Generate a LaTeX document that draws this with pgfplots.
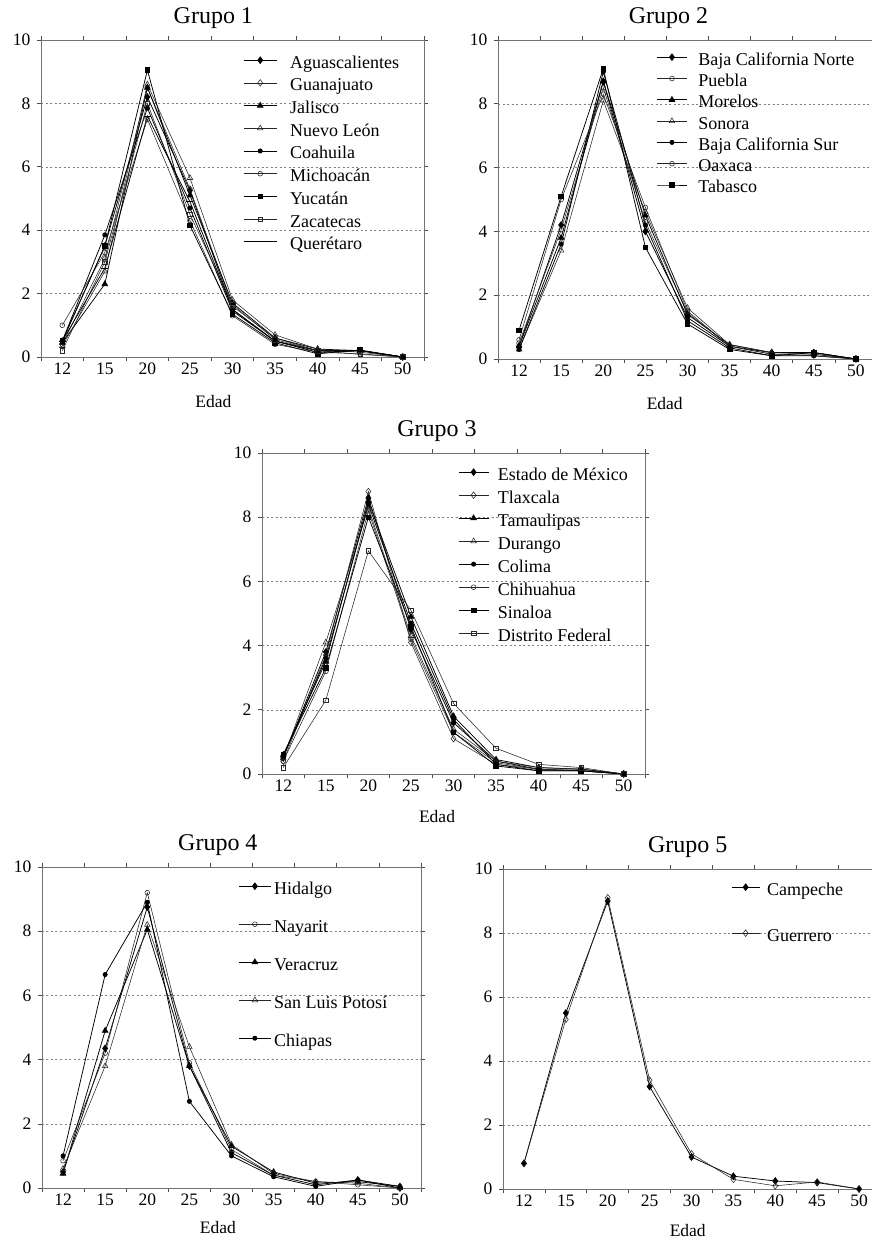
\documentclass[border=0pt]{standalone}
\usepackage{fontspec}
\setmainfont{Liberation Serif}
\usepackage{pgfplots}
\usepackage{pgfplotstable}
\pgfplotsset{compat=1.18}

\pgfplotstableread{
x Ags Gto Jal NL Coah Mich Yuc Zac Qro
0 0.5 0.4 0.45 0.35 0.5 1.0 0.5 0.2 0.5
1 3.5 3.1 2.3 2.7 3.85 3.3 3.5 3.0 2.8
2 8.2 8.5 8.5 8.6 7.85 7.5 9.05 8.0 7.6
3 5.25 5.3 5.1 5.65 4.7 4.3 4.15 4.5 4.9
4 1.5 1.6 1.7 1.8 1.45 1.3 1.35 1.65 1.5
5 0.5 0.6 0.6 0.7 0.5 0.4 0.45 0.55 0.5
6 0.2 0.2 0.25 0.25 0.2 0.15 0.1 0.2 0.15
7 0.2 0.2 0.2 0.15 0.2 0.1 0.22 0.08 0.2
8 0 0 0 0 0 0 0 0 0
}\grupoA

\pgfplotstableread{
x BCN Pue Mor Son BCS Oax Tab
0 0.4 0.5 0.4 0.3 0.3 0.6 0.9
1 4.2 4.05 3.8 3.4 3.6 5.0 5.1
2 8.7 8.5 8.7 8.1 9.0 8.3 9.1
3 4.0 4.3 4.5 4.6 4.2 4.75 3.5
4 1.3 1.45 1.4 1.6 1.2 1.5 1.1
5 0.4 0.4 0.45 0.45 0.35 0.4 0.3
6 0.2 0.15 0.2 0.2 0.1 0.15 0.1
7 0.2 0.15 0.2 0.15 0.1 0.1 0.2
8 0 0 0 0 0 0 0
}\grupoB

\pgfplotstableread{
x Mex Tlax Tamp Dgo Col Chih Sin DF
0 0.5 0.4 0.6 0.5 0.55 0.4 0.6 0.2
1 3.8 3.7 3.5 4.1 3.6 3.2 3.3 2.3
2 8.6 8.8 8.5 8.3 8.4 8.2 8.0 6.95
3 4.5 4.1 4.9 4.3 4.7 4.2 4.6 5.1
4 1.6 1.1 1.8 1.4 1.7 1.3 1.3 2.2
5 0.4 0.3 0.45 0.4 0.3 0.35 0.25 0.8
6 0.15 0.15 0.2 0.2 0.1 0.15 0.1 0.3
7 0.1 0.15 0.15 0.15 0.1 0.1 0.1 0.2
8 0 0 0 0 0 0 0 0
}\grupoC

\pgfplotstableread{
x Hgo Nay Ver SLP Chis
0 0.5 0.85 0.45 0.6 1.0
1 4.35 4.2 4.9 3.8 6.65
2 8.75 9.2 8.05 8.2 8.9
3 3.8 3.9 3.8 4.4 2.7
4 1.1 1.2 1.3 1.35 1.0
5 0.4 0.4 0.5 0.45 0.35
6 0.1 0.2 0.15 0.2 0.05
7 0.25 0.1 0.2 0.15 0.25
8 0 0 0.05 0 0.05
}\grupoD

\pgfplotstableread{
x Camp Gro
0 0.8 0.8
1 5.5 5.3
2 9.0 9.1
3 3.2 3.4
4 1.0 1.1
5 0.4 0.3
6 0.25 0.1
7 0.2 0.22
8 0 0
}\grupoE

\pgfplotsset{
  grp/.style={
    scale only axis,
    xmin=-0.5, xmax=8.5, ymin=0, ymax=10,
    xtick={-0.5,0.5,...,8.5}, xticklabels={},
    extra x ticks={0,1,...,8},
    extra x tick labels={12,15,20,25,30,35,40,45,50},
    extra x tick style={major tick length=0pt, grid=none},
    ytick={0,2,...,10},
    tick align=outside,
    major tick length=4pt,
    tick style={black!70, line width=0.6pt},
    ymajorgrids,
    grid style={dash pattern=on 2pt off 2.5pt, black!50, line width=0.5pt},
    axis line style={black!55, line width=0.7pt},
    ticklabel style={font=\fontsize{17.5}{20}\selectfont},
    /pgf/number format/assume math mode=true,
    xticklabel style={yshift=-2pt},
    yticklabel style={xshift=-3pt},
    xlabel={Edad},
    xlabel style={font=\fontsize{17.5}{20}\selectfont, anchor=base, yshift=-51pt},
    title style={font=\fontsize{24}{28}\selectfont, anchor=base, yshift=10pt},
    clip=false,
    every axis plot/.append style={black, line width=0.75pt},
    legend style={draw=none, fill=none, anchor=north west,
      font=\fontsize{18}{21}\selectfont,
      nodes={inner sep=0pt, text height=13pt, text depth=4pt}},
    legend cell align=left,
  },
  limg/.style n args={3}{legend image code/.code={%
    \draw[mark repeat=2,mark phase=2,##1] plot coordinates {(0pt,3.5pt)(#1,3.5pt)(#2,3.5pt)};
    \path (#3,0pt);}},
  m1/.style={mark=diamond*, mark size=3.3pt, mark options={fill=black, solid}},
  m2/.style={mark=diamond, mark size=3.3pt, mark options={fill=white, solid}, line width=0.55pt, black!85},
  m3/.style={mark=triangle*, mark size=3.2pt, mark options={fill=black, solid}},
  m4/.style={mark=triangle, mark size=3.2pt, mark options={fill=white, solid}, line width=0.55pt, black!85},
  m5/.style={mark=*, mark size=2.1pt, mark options={fill=black, solid}},
  m6/.style={mark=o, mark size=2.4pt, mark options={fill=white, solid}, line width=0.55pt, black!85},
  m7/.style={mark=square*, mark size=2.3pt, mark options={fill=black, solid}},
  m8/.style={mark=square, mark size=2.3pt, mark options={fill=white, solid}, line width=0.55pt, black!85},
  m9/.style={mark=-, mark size=3.5pt, mark options={solid}},
}

\begin{document}
\begin{tikzpicture}
\useasboundingbox (0pt,0pt) rectangle (872pt,1240pt);
\clip (0pt,0pt) rectangle (872pt,1240pt);

% Grupo 1
\begin{axis}[grp, at={(41pt,883pt)}, anchor=south west, width=383pt, height=317pt,
  title={Grupo 1}, title style={at={(0.45,1)}},
  xlabel style={at={(0.45,0)}},
  limg={16.5pt}{33pt}{46pt},
  legend style={at={(0.52,1)}, yshift=-13pt, row sep=5.7pt}]
\addplot[m1] table[x=x,y=Ags]{\grupoA}; \addlegendentry{Aguascalientes}
\addplot[m2] table[x=x,y=Gto]{\grupoA}; \addlegendentry{Guanajuato}
\addplot[m3] table[x=x,y=Jal]{\grupoA}; \addlegendentry{Jalisco}
\addplot[m4] table[x=x,y=NL]{\grupoA}; \addlegendentry{Nuevo León}
\addplot[m5] table[x=x,y=Coah]{\grupoA}; \addlegendentry{Coahuila}
\addplot[m6] table[x=x,y=Mich]{\grupoA}; \addlegendentry{Michoacán}
\addplot[m7] table[x=x,y=Yuc]{\grupoA}; \addlegendentry{Yucatán}
\addplot[m8] table[x=x,y=Zac]{\grupoA}; \addlegendentry{Zacatecas}
\addplot[m9] table[x=x,y=Qro]{\grupoA}; \addlegendentry{Querétaro}
\end{axis}

% Grupo 2
\begin{axis}[grp, at={(498pt,881pt)}, anchor=south west, width=379pt, height=319pt,
  title={Grupo 2}, title style={at={(0.45,1)}},
  xlabel style={at={(0.44,0)}},
  limg={15pt}{30pt}{41pt},
  legend style={at={(0.41,1)}, yshift=-10pt, row sep=4.3pt}]
\addplot[m1] table[x=x,y=BCN]{\grupoB}; \addlegendentry{Baja California Norte}
\addplot[m6] table[x=x,y=Pue]{\grupoB}; \addlegendentry{Puebla}
\addplot[m3] table[x=x,y=Mor]{\grupoB}; \addlegendentry{Morelos}
\addplot[m4] table[x=x,y=Son]{\grupoB}; \addlegendentry{Sonora}
\addplot[m5] table[x=x,y=BCS]{\grupoB}; \addlegendentry{Baja California Sur}
\addplot[m6] table[x=x,y=Oax]{\grupoB}; \addlegendentry{Oaxaca}
\addplot[m7] table[x=x,y=Tab]{\grupoB}; \addlegendentry{Tabasco}
\end{axis}

% Grupo 3
\begin{axis}[grp, at={(262pt,466pt)}, anchor=south west, width=383pt, height=321pt,
  title={Grupo 3}, title style={at={(0.457,1)}},
  xlabel style={at={(0.457,0)}, yshift=2pt},
  limg={15pt}{30pt}{39pt},
  legend style={at={(0.504,1)}, yshift=-12pt, row sep=6pt}]
\addplot[m1] table[x=x,y=Mex]{\grupoC}; \addlegendentry{Estado de México}
\addplot[m2] table[x=x,y=Tlax]{\grupoC}; \addlegendentry{Tlaxcala}
\addplot[m3] table[x=x,y=Tamp]{\grupoC}; \addlegendentry{Tamaulipas}
\addplot[m4] table[x=x,y=Dgo]{\grupoC}; \addlegendentry{Durango}
\addplot[m5] table[x=x,y=Col]{\grupoC}; \addlegendentry{Colima}
\addplot[m6] table[x=x,y=Chih]{\grupoC}; \addlegendentry{Chihuahua}
\addplot[m7] table[x=x,y=Sin]{\grupoC}; \addlegendentry{Sinaloa}
\addplot[m8] table[x=x,y=DF]{\grupoC}; \addlegendentry{Distrito Federal}
\end{axis}

% Grupo 4
\begin{axis}[grp, at={(42pt,52pt)}, anchor=south west, width=379pt, height=321pt,
  title={Grupo 4}, title style={at={(0.464,1)}},
  xlabel style={at={(0.464,0)}, yshift=6pt},
  limg={16pt}{32pt}{35pt},
  legend style={at={(0.51,1)}, yshift=-12pt, row sep=21pt}]
\addplot[m1] table[x=x,y=Hgo]{\grupoD}; \addlegendentry{Hidalgo}
\addplot[m6] table[x=x,y=Nay]{\grupoD}; \addlegendentry{Nayarit}
\addplot[m3] table[x=x,y=Ver]{\grupoD}; \addlegendentry{Veracruz}
\addplot[m4] table[x=x,y=SLP]{\grupoD}; \addlegendentry{San Luis Potosí}
\addplot[m5] table[x=x,y=Chis]{\grupoD}; \addlegendentry{Chiapas}
\end{axis}

% Grupo 5
\begin{axis}[grp, at={(503pt,51pt)}, anchor=south west, width=377pt, height=320pt,
  title={Grupo 5}, title style={at={(0.49,1)}},
  xlabel style={at={(0.49,0)}, yshift=4pt},
  limg={14pt}{28pt}{35pt},
  legend style={at={(0.597,1)}, yshift=-11pt, row sep=29pt}]
\addplot[m1] table[x=x,y=Camp]{\grupoE}; \addlegendentry{Campeche}
\addplot[m2] table[x=x,y=Gro]{\grupoE}; \addlegendentry{Guerrero}
\end{axis}
\end{tikzpicture}
\end{document}
